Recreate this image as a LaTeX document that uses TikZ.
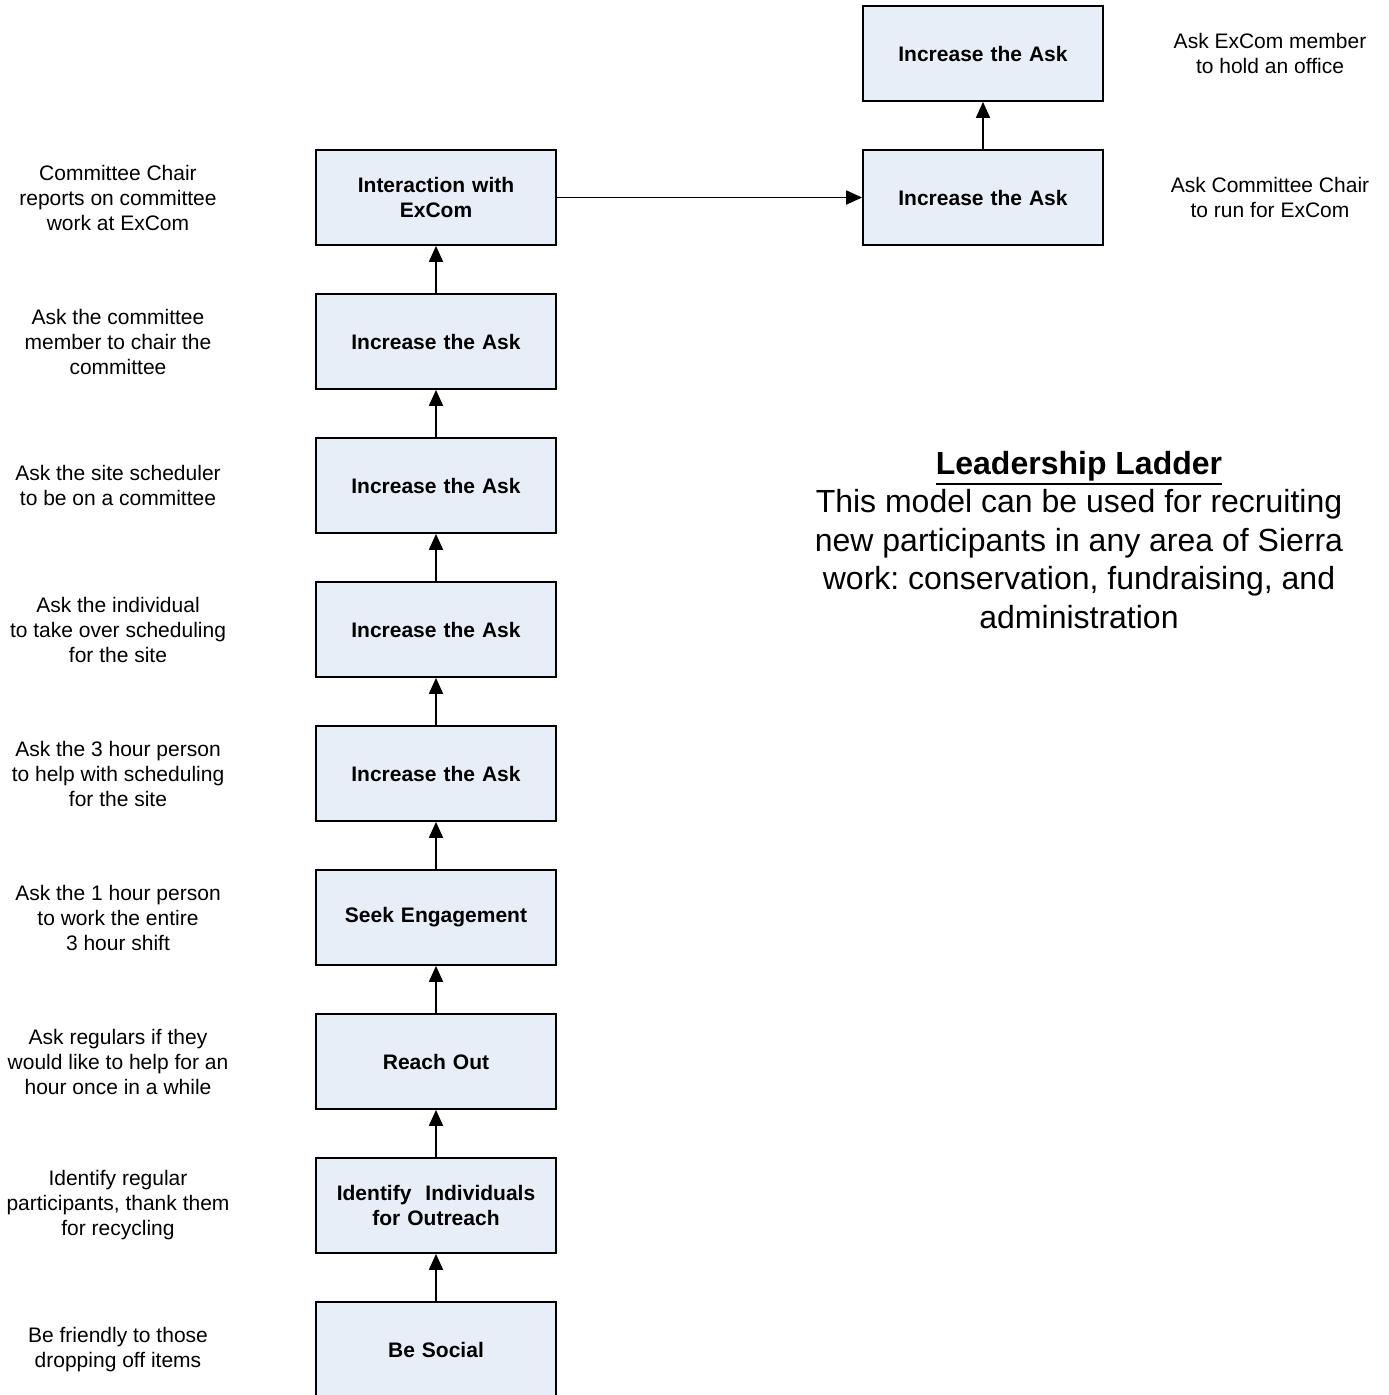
\documentclass[tikz,border=0pt]{standalone}
\usepackage{fontspec}
\setmainfont{Liberation Sans}
\usetikzlibrary{arrows.meta}
\definecolor{boxfill}{HTML}{E8EEF8}
\newcommand\myul[1]{\leavevmode\vtop{\hbox{#1}\kern1.5pt\hrule height 2.4pt}}
\frenchspacing
\begin{document}
\begin{tikzpicture}[x=1pt,y=-1pt,
  box/.style={draw=black, line width=1.8pt, fill=boxfill, minimum width=240pt, minimum height=95pt,
    inner sep=0pt, align=center, text width=220pt, font=\fontsize{21}{25}\selectfont\bfseries},
  lbl/.style={align=center, font=\fontsize{21}{25}\selectfont},
  arr/.style={line width=1.8pt, -{Triangle[length=16pt,width=14pt]}}]
\useasboundingbox (0,0) rectangle (1389,1395);
% left column
\node[box] (b1) at (436,1349.5) {Be Social};
\node[box] (b2) at (436,1205.5) {Identify\ \ Individuals\\for Outreach};
\node[box] (b3) at (436,1061.5) {Reach Out};
\node[box] (b4) at (436,917.5) {Seek Engagement};
\node[box] (b5) at (436,773.5) {Increase the Ask};
\node[box] (b6) at (436,629.5) {Increase the Ask};
\node[box] (b7) at (436,485.5) {Increase the Ask};
\node[box] (b8) at (436,341.5) {Increase the Ask};
\node[box] (b9) at (436,197.5) {Interaction with\\ExCom};
% right column
\node[box] (r1) at (983,197.5) {Increase the Ask};
\node[box] (r2) at (983,53.5) {Increase the Ask};
% arrows
\draw[arr] (b1.north) -- (b2.south);
\draw[arr] (b2.north) -- (b3.south);
\draw[arr] (b3.north) -- (b4.south);
\draw[arr] (b4.north) -- (b5.south);
\draw[arr] (b5.north) -- (b6.south);
\draw[arr] (b6.north) -- (b7.south);
\draw[arr] (b7.north) -- (b8.south);
\draw[arr] (b8.north) -- (b9.south);
\draw[arr] (b9.east) -- (r1.west);
\draw[arr] (r1.north) -- (r2.south);
% left labels
\node[lbl] (l1) at (118,1349.5) {Be friendly to those\\dropping off items};
\node[lbl] (l2) at (118,1205.5) {Identify regular\\participants, thank them\\for recycling};
\node[lbl] (l3) at (118,1061.5) {Ask regulars if they\\would like to help for an\\hour once in a while};
\node[lbl] (l4) at (118,917.5) {Ask the 1 hour person\\to work the entire\\3 hour shift};
\node[lbl] (l5) at (118,773.5) {Ask the 3 hour person\\to help with scheduling\\for the site};
\node[lbl] (l6) at (118,629.5) {Ask the individual\\to take over scheduling\\for the site};
\node[lbl] (l7) at (118,485.5) {Ask the site scheduler\\to be on a committee};
\node[lbl] (l8) at (118,341.5) {Ask the committee\\member to chair the\\committee};
\node[lbl] (l9) at (118,197.5) {Committee Chair\\reports on committee\\work at ExCom};
% right labels
\node[lbl] (rl1) at (1270,197.5) {Ask Committee Chair\\to run for ExCom};
\node[lbl] (rl2) at (1270,53.5) {Ask ExCom member\\to hold an office};
% title block
\node[align=center, font=\fontsize{32}{38.5}\selectfont] (title) at (1079,540)
  {\myul{\textbf{Leadership Ladder}}\\This model can be used for recruiting\\new participants in any area of Sierra\\work: conservation, fundraising, and\\administration};
\end{tikzpicture}
\end{document}
